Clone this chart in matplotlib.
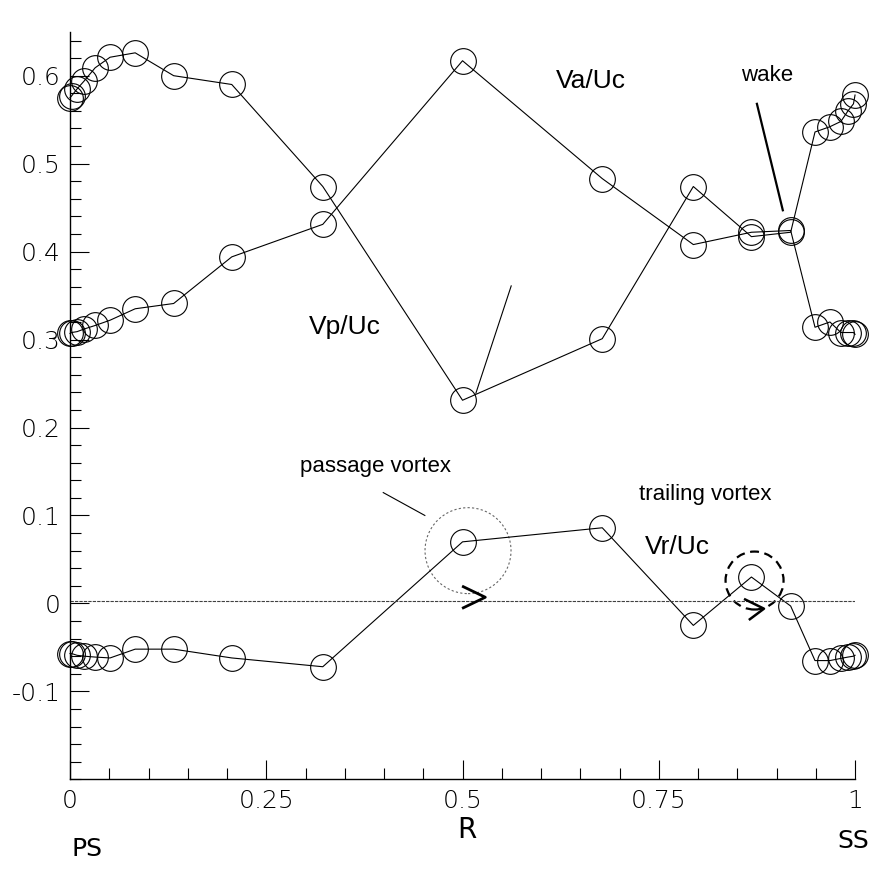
import matplotlib.pyplot as plt
import numpy as np
from matplotlib.patches import Ellipse

# pitchwise position R (PS -> SS)
r = [0, 0.002, 0.009, 0.018, 0.032, 0.051, 0.083, 0.132, 0.206, 0.322, 0.5,
     0.678, 0.794, 0.868, 0.918, 0.949, 0.968, 0.982, 0.991, 0.998, 1.0]

vp_uc = [0.575, 0.577, 0.585, 0.594, 0.609, 0.621, 0.626, 0.600, 0.590, 0.474, 0.231,
         0.301, 0.474, 0.417, 0.422, 0.536, 0.542, 0.548, 0.560, 0.568, 0.578]
va_uc = [0.307, 0.308, 0.309, 0.312, 0.316, 0.322, 0.335, 0.341, 0.394, 0.431, 0.617,
         0.483, 0.408, 0.422, 0.424, 0.314, 0.320, 0.308, 0.308, 0.308, 0.306]
vr_uc = [-0.057, -0.057, -0.059, -0.060, -0.061, -0.062, -0.052, -0.052, -0.062, -0.072, 0.070,
         0.086, -0.025, 0.030, -0.003, -0.065, -0.065, -0.0625, -0.061, -0.060, -0.059]

xticks = [0, 0.25, 0.5, 0.75, 1]
xlabels = ["0", "0.25", "0.5", "0.75", "1"]
yticks = [-0.1, 0, 0.1, 0.2, 0.3, 0.4, 0.5, 0.6]
ylabels = ["-0.1", "0", "0.1", "0.2", "0.3", "0.4", "0.5", "0.6"]

tick_font = ["Liberation Sans Narrow", "DejaVu Sans Condensed", "DejaVu Sans"]
txt_font = "Liberation Sans"

fig = plt.figure(figsize=(8.7, 8.69), dpi=100)
ax = fig.add_axes([0.0805, 0.1032, 0.9023, 0.8603])

for yy in (vp_uc, va_uc, vr_uc):
    ax.plot(r, yy, '-', color='black', lw=0.8,
            marker='o', ms=18.5, mfc='none', mec='black', mew=0.8, clip_on=False)

# zero line
ax.plot([0, 1], [0.003, 0.003], color='0.25', lw=0.8, ls=(0, (3, 1)))

# vortex circles (radius in pixels -> data)
sx, sy = 1 / 785, 1 / 880
ax.add_patch(Ellipse((0.507, 0.060), 86 * sx, 86 * sy, fill=False,
                     ec='0.4', lw=0.8, ls=(0, (2, 2))))
ax.add_patch(Ellipse((0.872, 0.026), 58 * sx, 58 * sy, fill=False,
                     ec='black', lw=1.6, ls=(0, (4, 2.5))))

# direction chevrons
ax.plot([0.501, 0.529, 0.501], [0.019, 0.007, -0.005], color='black', lw=2.0)
ax.plot([0.860, 0.884, 0.866], [0.0045, -0.006, -0.018], color='black', lw=1.8)

# leader lines
ax.plot([0.875, 0.908], [0.568, 0.447], color='black', lw=1.6)
ax.plot([0.562, 0.517], [0.361, 0.239], color='black', lw=0.8)
ax.plot([0.399, 0.452], [0.126, 0.100], color='black', lw=0.8)

# annotations
ax.text(0.664, 0.594, "Va/Uc", fontsize=19, family=txt_font, ha='center', va='center')
ax.text(0.350, 0.314, "Vp/Uc", fontsize=19, family=txt_font, ha='center', va='center')
ax.text(0.774, 0.064, "Vr/Uc", fontsize=19, family=txt_font, ha='center', va='center')
ax.text(0.888, 0.600, "wake", fontsize=16, family=txt_font, ha='center', va='center')
ax.text(0.389, 0.156, "passage vortex", fontsize=16, family=txt_font, ha='center', va='center')
ax.text(0.809, 0.124, "trailing vortex", fontsize=16, family=txt_font, ha='center', va='center')
ax.text(0.022, -0.279, "PS", fontsize=18, family=tick_font, ha='center', va='center', clip_on=False)
ax.text(0.9975, -0.270, "SS", fontsize=18, family=tick_font, ha='center', va='center', clip_on=False)
ax.text(0.506, -0.258, "R", fontsize=20, family=tick_font, ha='center', va='center', clip_on=False)

ax.set_xlim(0, 1)
ax.set_ylim(-0.2, 0.65)
ax.spines['top'].set_visible(False)
ax.spines['right'].set_visible(False)
ax.spines['left'].set_linewidth(1.0)
ax.spines['bottom'].set_linewidth(1.0)

ax.set_xticks(xticks)
ax.set_xticklabels(xlabels)
ax.set_xticks(np.arange(0, 1.0001, 0.05), minor=True)
ax.set_yticks(yticks)
ax.set_yticklabels(ylabels)
ax.set_yticks(np.arange(-0.2, 0.6501, 0.02), minor=True)
ax.tick_params(which='major', direction='in', length=13.5, width=0.8, pad=7, labelsize=18)
ax.tick_params(which='minor', direction='in', length=8, width=0.8)
for lab in ax.get_xticklabels() + ax.get_yticklabels():
    lab.set_family(tick_font)
    lab.set_fontweight('light')

fig.savefig("out.png", dpi=100)
